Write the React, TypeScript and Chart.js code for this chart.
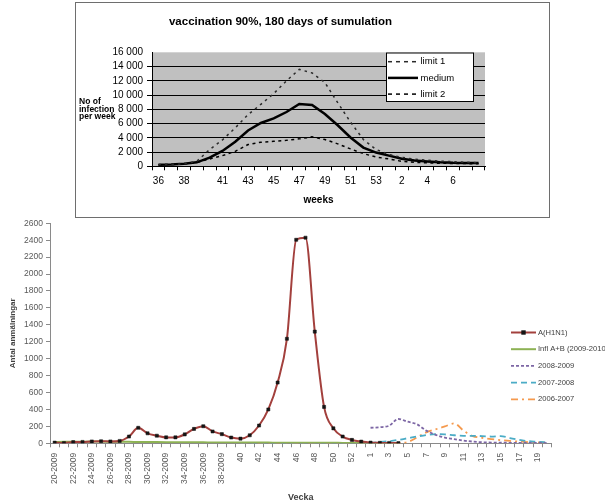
import React, { useEffect, useRef } from 'react';
import { Chart, registerables } from 'chart.js';

Chart.register(...registerables);

const FONT = '"Liberation Sans", Arial, sans-serif';
Chart.defaults.font.family = FONT;

// ---------- top chart data ----------
const topTitle = 'vaccination 90%, 180 days of sumulation';
const topYTitleLines = ['No of', 'infection', 'per week'];
const topWeeks = ['36', '37', '38', '39', '40', '41', '42', '43', '44', '45', '46', '47', '48', '49', '50', '51', '52', '53', '1', '2', '3', '4', '5', '6', '7', '8'];
const topShownWeeks = ['36', '38', '41', '43', '45', '47', '49', '51', '53', '2', '4', '6'];
const limit1 = [230, 260, 330, 700, 2350, 3700, 5400, 7250, 8700, 10200, 12000, 13600, 13100, 11750, 8930, 6200, 3760, 2350, 1650, 1250, 1000, 850, 720, 640, 560, 500];
const medium = [230, 250, 350, 560, 1220, 2150, 3450, 5030, 6080, 6730, 7620, 8740, 8620, 7330, 5760, 4040, 2630, 1930, 1500, 1050, 820, 680, 560, 500, 480, 450];
const limit2 = [230, 250, 330, 560, 1030, 1500, 2100, 3050, 3380, 3500, 3650, 3850, 4130, 3760, 3150, 2440, 1780, 1300, 1030, 700, 560, 480, 430, 400, 380, 360];

// ---------- bottom chart data ----------
const botWeeks = ['20-2009', '21-2009', '22-2009', '23-2009', '24-2009', '25-2009', '26-2009', '27-2009', '28-2009', '29-2009', '30-2009', '31-2009', '32-2009', '33-2009', '34-2009', '35-2009', '36-2009', '37-2009', '38-2009', '39-2009', '40', '41', '42', '43', '44', '45', '46', '47', '48', '49', '50', '51', '52', '53', '1', '2', '3', '4', '5', '6', '7', '8', '9', '10', '11', '12', '13', '14', '15', '16', '17', '18', '19', '20'];
const N = null;
const h1n1 = [8, 3, 14, 16, 22, 24, 22, 28, 80, 183, 118, 90, 70, 70, 105, 170, 202, 140, 108, 68, 55, 95, 210, 400, 718, 1235, 2405, 2430, 1320, 430, 177, 80, 40, 20, 8, 5, 4, 2, N, N, N, N, N, N, N, N, N, N, N, N, N, N, N, N];
const inflAB = [15, 17, 18, 19, 20, 20, 19, 18, 17, 16, 15, 14, 13, 12, 12, 11, 11, 10, 10, 9, 9, 8, 8, 8, 7, 7, 7, 6, 6, 6, 6, 5, 5, 5, 5, 5, 5, 5, N, N, N, N, N, N, N, N, N, N, N, N, N, N, N, N];
const s0809 = [N, N, N, N, N, N, N, N, N, N, N, N, N, N, N, N, N, N, N, N, N, N, N, N, N, N, N, N, N, N, N, N, N, N, 184, 190, 208, 287, 255, 225, 150, 100, 67, 50, 32, 20, 12, 9, 7, 6, 5, 5, 4, 3];
const s0708 = [N, N, N, N, N, N, N, N, N, N, N, N, N, N, N, N, N, N, N, N, 2, 2, 3, 3, 3, 3, 4, 4, 4, 5, 5, 6, 6, 7, 8, 15, 25, 40, 60, 80, 98, 108, 105, 95, 88, 88, 85, 80, 85, 62, 40, 25, 18, 10];
const s0607 = [N, N, N, N, N, N, N, N, N, N, N, N, N, N, N, N, N, N, N, N, 2, 2, 2, 3, 3, 3, 3, 3, 4, 4, 4, 4, 5, 5, 5, 5, 5, 5, 15, 70, 130, 165, 200, 235, 150, 85, 65, 50, 38, 28, 20, 14, 10, 6];
const botLabels = ['A(H1N1)', 'Infl A+B (2009-2010)', '2008-2009', '2007-2008', '2006-2007'];

const spaceThousands = (v: number) => String(v).replace(/\B(?=(\d{3})+(?!\d))/g, ' ');

function plotBgPlugin(color: string) {
  return {
    id: 'plotBg',
    beforeDraw(chart: any) {
      const { ctx, chartArea: a } = chart;
      ctx.save();
      ctx.fillStyle = color;
      ctx.fillRect(a.left, a.top, a.right - a.left, a.bottom - a.top);
      ctx.restore();
    },
  };
}

function legendPlugin(o: any) {
  return {
    id: 'lineLegend',
    afterDraw(chart: any) {
      const ctx = chart.ctx;
      ctx.save();
      if (o.box) {
        ctx.fillStyle = '#ffffff';
        ctx.fillRect(o.box.x, o.box.y, o.box.w, o.box.h);
        ctx.strokeStyle = '#000';
        ctx.lineWidth = 1;
        ctx.strokeRect(o.box.x + 0.5, o.box.y + 0.5, o.box.w, o.box.h);
      }
      chart.data.datasets.forEach((ds: any, i: number) => {
        const y = o.y + i * o.step;
        ctx.beginPath();
        ctx.setLineDash(o.dashes ? o.dashes[i] || [] : ds.borderDash || []);
        ctx.strokeStyle = ds.borderColor;
        ctx.lineWidth = ds.borderWidth;
        ctx.moveTo(o.x, y);
        ctx.lineTo(o.x + o.len, y);
        ctx.stroke();
        ctx.setLineDash([]);
        if (ds.pointStyle === 'rect' && ds.pointRadius > 0) {
          const r = ds.pointRadius;
          ctx.fillStyle = ds.pointBackgroundColor;
          ctx.fillRect(o.x + o.len / 2 - r, y - r, 2 * r, 2 * r);
        }
        ctx.fillStyle = o.color;
        ctx.font = o.font;
        ctx.textAlign = 'left';
        ctx.textBaseline = 'middle';
        ctx.fillText(ds.label, o.textX, y);
      });
      ctx.restore();
    },
  };
}

function sideTextPlugin(lines: string[], x: number, y: number, step: number, font: string) {
  return {
    id: 'sideText',
    afterDraw(chart: any) {
      const ctx = chart.ctx;
      ctx.save();
      ctx.font = font;
      ctx.fillStyle = '#000';
      ctx.textAlign = 'left';
      ctx.textBaseline = 'middle';
      lines.forEach((t, i) => ctx.fillText(t, x, y + i * step));
      ctx.restore();
    },
  };
}

export default function App() {
  const topRef = useRef<HTMLCanvasElement>(null);
  const botRef = useRef<HTMLCanvasElement>(null);

  useEffect(() => {
    const top = new Chart(topRef.current as HTMLCanvasElement, {
      type: 'line',
      data: {
        labels: topWeeks,
        datasets: [
          { label: 'limit 1', data: limit1, borderColor: '#2a2a2a', borderWidth: 1.5, borderDash: [2.5, 4], pointRadius: 0, tension: 0 },
          { label: 'medium', data: medium, borderColor: '#000', borderWidth: 2.5, pointRadius: 0, tension: 0 },
          { label: 'limit 2', data: limit2, borderColor: '#000', borderWidth: 1.5, borderDash: [3, 3.5], pointRadius: 0, tension: 0 },
        ],
      },
      options: {
        animation: false,
        responsive: true,
        maintainAspectRatio: false,
        layout: { padding: { top: 0, right: 64, bottom: 0, left: 0 } },
        plugins: {
          legend: { display: false },
          tooltip: { enabled: false },
          title: {
            display: true,
            text: topTitle,
            color: '#000',
            font: { family: FONT, size: 11.5, weight: 'bold' },
            padding: { top: 12.4, bottom: 23.1 },
          },
        },
        scales: {
          x: {
            offset: true,
            grid: { offset: true, drawOnChartArea: false, drawTicks: true, tickLength: 4, color: '#000' },
            border: { color: '#000', width: 1 },
            ticks: {
              autoSkip: false,
              maxRotation: 0,
              minRotation: 0,
              padding: 5,
              color: '#000',
              font: { family: FONT, size: 10 },
              callback: (_v: any, i: number) => (topShownWeeks.includes(topWeeks[i]) ? topWeeks[i] : ''),
            },
            title: { display: true, text: 'weeks', color: '#000', font: { family: FONT, size: 10, weight: 'bold' }, padding: { top: 0, bottom: 11 } },
            afterFit: (s: any) => { s.height = 50.7; },
          },
          y: {
            min: 0,
            max: 16000,
            ticks: { autoSkip: false, stepSize: 2000, padding: 4, color: '#000', font: { family: FONT, size: 10 }, callback: (v: any) => spaceThousands(Number(v)) },
            grid: {
              color: (c: any) => (c.tick && c.tick.value === 16000 ? 'rgba(0,0,0,0)' : '#000'),
              tickLength: 5,
              lineWidth: 1,
            },
            border: { color: '#000', width: 1 },
            afterFit: (s: any) => { s.width = 76; },
          },
        },
      } as any,
      plugins: [
        plotBgPlugin('#c0c0c0'),
        legendPlugin({ box: { x: 310, y: 49.5, w: 87, h: 48.5 }, x: 312, len: 30, textX: 344.5, y: 58.7, step: 16.2, font: `9.5px ${FONT}`, color: '#000', dashes: [[4, 4], [], [4, 4]] }),
        sideTextPlugin(topYTitleLines, 3, 98.8, 7.4, `bold 8.5px ${FONT}`),
      ],
    });

    const bot = new Chart(botRef.current as HTMLCanvasElement, {
      type: 'line',
      data: {
        labels: botWeeks,
        datasets: [
          { label: botLabels[0], data: h1n1, borderColor: '#A3403D', borderWidth: 2, pointStyle: 'rect', pointRadius: 2.2, pointBackgroundColor: '#151515', pointBorderColor: '#151515', pointBorderWidth: 0.5, cubicInterpolationMode: 'monotone' },
          { label: botLabels[1], data: inflAB, borderColor: '#8DB254', borderWidth: 2, pointRadius: 0, cubicInterpolationMode: 'monotone' },
          { label: botLabels[2], data: s0809, borderColor: '#7D67A5', borderWidth: 1.8, borderDash: [3, 2], pointRadius: 0, cubicInterpolationMode: 'monotone' },
          { label: botLabels[3], data: s0708, borderColor: '#4BACC6', borderWidth: 1.8, borderDash: [6, 4], pointRadius: 0, cubicInterpolationMode: 'monotone' },
          { label: botLabels[4], data: s0607, borderColor: '#F59A4E', borderWidth: 1.8, borderDash: [7, 4, 2, 4], pointRadius: 0, cubicInterpolationMode: 'monotone' },
        ],
      },
      options: {
        animation: false,
        responsive: true,
        maintainAspectRatio: false,
        spanGaps: false,
        layout: { padding: { top: 8.3, right: 53.3, bottom: 0, left: 0 } },
        plugins: { legend: { display: false }, tooltip: { enabled: false } },
        scales: {
          x: {
            offset: true,
            grid: { offset: true, drawOnChartArea: false, drawTicks: true, tickLength: 4, color: '#8a8a8a' },
            border: { color: '#8a8a8a', width: 1 },
            ticks: {
              autoSkip: false,
              maxRotation: 90,
              minRotation: 90,
              padding: 5.5,
              color: '#595959',
              font: { family: FONT, size: 8.5 },
              callback: (_v: any, i: number) => (i % 2 === 0 ? botWeeks[i] : ''),
            },
            title: { display: true, text: 'Vecka', color: '#404040', font: { family: FONT, size: 9, weight: 'bold' }, padding: { top: 0, bottom: 1 } },
            afterFit: (s: any) => { s.height = 60.7; },
          },
          y: {
            min: 0,
            max: 2600,
            ticks: { autoSkip: false, stepSize: 200, padding: 3, color: '#595959', font: { family: FONT, size: 8.5 }, callback: (v: any) => String(v) },
            grid: { drawOnChartArea: false, drawTicks: true, tickLength: 4, color: '#8a8a8a' },
            border: { color: '#8a8a8a', width: 1 },
            title: { display: true, text: 'Antal anmälningar', color: '#404040', font: { family: FONT, size: 8, weight: 'bold' }, padding: { top: 7.5, bottom: 0 } },
            afterFit: (s: any) => { s.width = 50; },
          },
        },
      } as any,
      plugins: [
        legendPlugin({ x: 511, len: 25, textX: 538, y: 117.5, step: 16.7, font: `7.6px ${FONT}`, color: '#404040' }),
      ],
    });

    return () => {
      top.destroy();
      bot.destroy();
    };
  }, []);

  return (
    <div style={{ position: 'absolute', left: 0, top: 0, width: 605, height: 504, background: '#fff', overflow: 'hidden' }}>
      <div style={{ position: 'absolute', left: 0, top: 215, width: 605, height: 289 }}>
        <canvas ref={botRef} />
      </div>
      <div style={{ position: 'absolute', left: 75, top: 2, width: 475, height: 216, border: '1px solid #6e6e6e', boxSizing: 'border-box', background: '#fff' }}>
        <div style={{ position: 'relative', width: 473, height: 214 }}>
          <canvas ref={topRef} />
        </div>
      </div>
    </div>
  );
}
